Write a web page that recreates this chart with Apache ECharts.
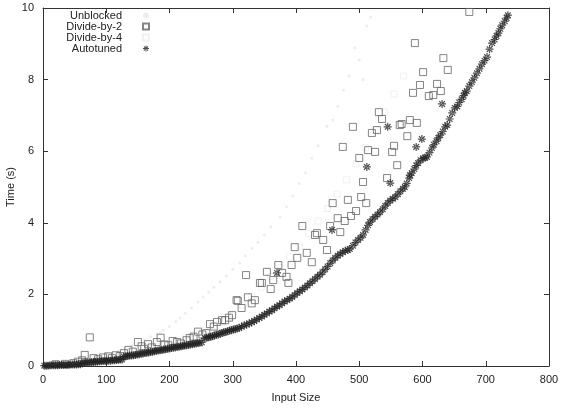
<!DOCTYPE html>
<html>
<head>
<meta charset="utf-8">
<script src="https://cdn.jsdelivr.net/npm/echarts@6/dist/echarts.min.js"></script>
<style>
  html, body { margin: 0; padding: 0; background: #fff; }
  #chart { width: 565px; height: 410px; }
</style>
</head>
<body>
<div id="chart"></div>
<script>
// values: [input size, time in s]
const unblocked = [
  [10, 0.00], [20, 0.01], [30, 0.02], [40, 0.04], [50, 0.07], [60, 0.10], [70, 0.14], [80, 0.19],
  [90, 0.24], [100, 0.30], [110, 0.36], [120, 0.42], [130, 0.50], [140, 0.57], [150, 0.65],
  [160, 0.73], [170, 0.82], [180, 0.90], [185, 0.92], [190, 1.00], [200, 1.10], [210, 1.24],
  [217, 1.34], [225, 1.47], [235, 1.62], [245, 1.79], [253, 1.93], [262, 2.06], [270, 2.20],
  [280, 2.35], [290, 2.52], [300, 2.70], [311, 2.88], [320, 3.08], [330, 3.28], [340, 3.46],
  [350, 3.66], [360, 3.88], [375, 4.16], [385, 4.45], [395, 4.75], [405, 5.10], [415, 5.40],
  [425, 5.80], [435, 6.15], [449, 6.70], [458, 6.87], [466, 7.25], [475, 7.70], [484, 8.10],
  [493, 8.90], [500, 8.55], [506, 8.00], [512, 9.50], [518, 9.75]
];

const divideBy2 = [
  [20, 0.05], [35, 0.06], [48, 0.08], [55, 0.12], [62, 0.16], [66, 0.31], [74, 0.80], [80, 0.22],
  [87, 0.19], [95, 0.24], [103, 0.27], [109, 0.22], [115, 0.30], [122, 0.28], [128, 0.36],
  [135, 0.45], [142, 0.40], [150, 0.67], [156, 0.55], [160, 0.48], [166, 0.61], [172, 0.52],
  [180, 0.67], [186, 0.79], [192, 0.60], [198, 0.58], [205, 0.70], [212, 0.67], [218, 0.63],
  [227, 0.72], [232, 0.78], [238, 0.82], [245, 0.96], [252, 0.88], [258, 0.92], [264, 1.17],
  [270, 1.10], [275, 1.23], [283, 1.28], [288, 1.28], [294, 1.35], [299, 1.42], [306, 1.84],
  [308, 1.82], [314, 1.62], [321, 2.54], [324, 1.92], [330, 1.75], [335, 1.84], [343, 2.32],
  [346, 2.32], [354, 2.63], [360, 2.15], [364, 2.40], [372, 2.82], [378, 2.60], [385, 2.49],
  [388, 2.32], [393, 2.82], [398, 3.32], [402, 3.02], [410, 3.91], [417, 3.16], [425, 2.90],
  [430, 3.66], [433, 3.71], [443, 3.52], [449, 3.24], [454, 3.91], [458, 4.55], [466, 4.13],
  [470, 3.74], [474, 6.12], [477, 4.05], [482, 4.64], [487, 4.19], [490, 6.68], [495, 4.33],
  [500, 5.81], [503, 4.72], [506, 5.14], [511, 4.55], [514, 6.03], [520, 6.51], [525, 5.98],
  [528, 6.59], [531, 7.09], [536, 6.90], [544, 5.25], [552, 5.98], [555, 6.15], [560, 5.61],
  [564, 6.73], [567, 6.76], [576, 6.42], [580, 6.87], [585, 7.63], [588, 9.02], [591, 6.79],
  [596, 7.85], [601, 8.21], [610, 7.54], [617, 7.57], [623, 7.88], [629, 7.68], [633, 8.60],
  [640, 8.27], [674, 9.89]
];

const divideBy4 = [
  [60, 0.12], [75, 0.18], [90, 0.22], [105, 0.26], [120, 0.30], [135, 0.38], [150, 0.45],
  [165, 0.50], [180, 0.55], [195, 0.62], [210, 0.70], [225, 0.80], [240, 0.90], [255, 1.00],
  [270, 1.12], [285, 1.25], [300, 1.45], [315, 1.70], [330, 1.95], [345, 2.20], [360, 2.50],
  [375, 2.75], [390, 3.05], [405, 3.35], [420, 3.70], [435, 4.05], [450, 4.40], [465, 4.80],
  [480, 5.20], [495, 5.65], [510, 6.10], [525, 6.60], [540, 7.10], [555, 7.60], [570, 8.10]
];

const autotuned = [
  [2, 0.01], [5, 0.01], [8, 0.01], [11, 0.02], [14, 0.02], [17, 0.02], [20, 0.02], [23, 0.02],
  [26, 0.03], [29, 0.03], [32, 0.03], [35, 0.03], [38, 0.03], [41, 0.03], [44, 0.04], [47, 0.04],
  [50, 0.04], [53, 0.04], [56, 0.05], [59, 0.05],
  [62, 0.08], [65, 0.09], [68, 0.09], [71, 0.10], [74, 0.10], [77, 0.11], [80, 0.11], [83, 0.12],
  [86, 0.12], [89, 0.13], [92, 0.13], [95, 0.14], [98, 0.14], [101, 0.15], [104, 0.15],
  [107, 0.15], [110, 0.16], [113, 0.16], [116, 0.17], [119, 0.17], [122, 0.18], [125, 0.18],
  [128, 0.26], [131, 0.27], [134, 0.28], [137, 0.29], [140, 0.29], [143, 0.30], [146, 0.31],
  [149, 0.32], [152, 0.33], [155, 0.34], [158, 0.35], [161, 0.36], [164, 0.37], [167, 0.38],
  [170, 0.39], [173, 0.40], [176, 0.41], [179, 0.42], [182, 0.43], [185, 0.44], [188, 0.45],
  [191, 0.46], [194, 0.47], [197, 0.48], [200, 0.49], [203, 0.50], [206, 0.51], [209, 0.52],
  [212, 0.53], [215, 0.54], [218, 0.55], [221, 0.56], [224, 0.57], [227, 0.58], [230, 0.59],
  [233, 0.60], [236, 0.61], [239, 0.62], [242, 0.63], [245, 0.64], [248, 0.65], [251, 0.66],
  [256, 0.78], [259, 0.79], [262, 0.80], [265, 0.82], [268, 0.83], [271, 0.85], [274, 0.87],
  [277, 0.88], [280, 0.90], [283, 0.92], [286, 0.94], [289, 0.95], [292, 0.97], [295, 0.99],
  [298, 1.00], [301, 1.02], [304, 1.03], [307, 1.05], [310, 1.06],
  [314, 1.10], [318, 1.13], [322, 1.16], [326, 1.19], [330, 1.22], [334, 1.26], [338, 1.30],
  [342, 1.34], [346, 1.38], [350, 1.43], [354, 1.47], [358, 1.52], [362, 1.56], [366, 1.61],
  [370, 1.66], [374, 1.70], [378, 1.75], [382, 1.80], [386, 1.84], [390, 1.88], [394, 1.93],
  [398, 1.98], [402, 2.04], [406, 2.09], [410, 2.14], [414, 2.19], [418, 2.25], [422, 2.31],
  [426, 2.37], [430, 2.43], [434, 2.49], [438, 2.55], [442, 2.62], [446, 2.70], [450, 2.78],
  [454, 2.87], [458, 2.95], [462, 3.02], [466, 3.08], [470, 3.13], [474, 3.18], [478, 3.22],
  [482, 3.24], [485, 3.27], [490, 3.36], [494, 3.45], [498, 3.52], [502, 3.58], [506, 3.66],
  [510, 3.80], [514, 3.93], [517, 4.02], [521, 4.10], [525, 4.17], [529, 4.23], [533, 4.30],
  [537, 4.38], [541, 4.47], [545, 4.55], [549, 4.62], [553, 4.67], [557, 4.72], [561, 4.80],
  [565, 4.88], [569, 4.95], [572, 5.00], [575, 5.10], [579, 5.25], [583, 5.39], [587, 5.50],
  [590, 5.60], [593, 5.67], [597, 5.75], [601, 5.80], [604, 5.82], [607, 5.84], [611, 5.96],
  [615, 6.09], [618, 6.18], [622, 6.28], [625, 6.37], [628, 6.45], [632, 6.55], [636, 6.68],
  [639, 6.73], [643, 6.90], [647, 7.07], [651, 7.21], [655, 7.25], [658, 7.36], [662, 7.45],
  [665, 7.55], [667, 7.63], [670, 7.68], [674, 7.82], [678, 7.93], [682, 8.05], [686, 8.18],
  [690, 8.30], [694, 8.43], [698, 8.53], [702, 8.63], [706, 8.85], [710, 9.02], [714, 9.12],
  [717, 9.22], [720, 9.30], [723, 9.42], [726, 9.52], [730, 9.63], [733, 9.72], [735, 9.80],
  // stray runs
  [370, 2.60], [457, 3.80], [512, 5.56], [545, 6.68], [549, 5.11], [580, 5.33], [590, 6.12],
  [599, 6.34], [631, 7.32]
];

const xTicks = [0, 100, 200, 300, 400, 500, 600, 700, 800];
const yTicks = [0, 2, 4, 6, 8, 10];

// gnuplot style asterisk
const asterisk = 'path://M-1.5,-10L1.5,-10L1.5,10L-1.5,10Z M-10,-1.5L10,-1.5L10,1.5L-10,1.5Z ' +
  'M-8.1,-6L6,8.1L8.1,6L-6,-8.1Z M-8.1,6L6,-8.1L8.1,-6L-6,8.1Z';

const font = 'Liberation Sans';
const axisColor = '#333';

function frameAxis(pos, isX, showLabel) {
  const ticks = isX ? xTicks : yTicks;
  return {
    type: 'value',
    position: pos,
    min: ticks[0],
    max: ticks[ticks.length - 1],
    interval: ticks[1] - ticks[0],
    axisLine: { show: true, onZero: false, lineStyle: { color: axisColor, width: 1 } },
    axisTick: { show: true, inside: true, length: 5, lineStyle: { color: axisColor } },
    axisLabel: {
      show: showLabel, color: '#222', fontSize: 11, fontFamily: font,
      margin: isX ? 8 : 9
    },
    splitLine: { show: false }
  };
}

const chart = echarts.init(document.getElementById('chart'));

const xBottom = frameAxis('bottom', true, true);
xBottom.name = 'Input Size';
xBottom.nameLocation = 'middle';
xBottom.nameGap = 26;
xBottom.nameMoveOverlap = false;
xBottom.nameTextStyle = { color: '#222', fontSize: 11, fontFamily: font };

const yLeft = frameAxis('left', false, true);
yLeft.name = 'Time (s)';
yLeft.nameLocation = 'middle';
yLeft.nameGap = 27;
yLeft.nameMoveOverlap = false;
yLeft.nameTextStyle = { color: '#222', fontSize: 11, fontFamily: font };

chart.setOption({
  animation: false,
  backgroundColor: '#fff',
  grid: { left: 43, right: 16, top: 8, bottom: 44, outerBoundsMode: 'none', containLabel: false },
  xAxis: [xBottom, frameAxis('top', true, false)],
  yAxis: [yLeft, frameAxis('right', false, false)],
  legend: {
    orient: 'vertical',
    align: 'right',
    right: 415,
    top: 10,
    itemWidth: 6,
    itemHeight: 6,
    itemGap: 0,
    padding: 0,
    textStyle: { color: '#222', fontSize: 11, fontFamily: font, padding: [0, 16, 0, 0] },
    data: ['Unblocked', 'Divide-by-2', 'Divide-by-4', 'Autotuned']
  },
  series: [
    {
      name: 'Unblocked', type: 'scatter', data: unblocked,
      symbol: 'circle', symbolSize: 3,
      itemStyle: { color: '#e8e8e8' }
    },
    {
      name: 'Divide-by-4', type: 'scatter', data: divideBy4,
      symbol: 'rect', symbolSize: 6,
      itemStyle: { color: 'rgba(0,0,0,0)', borderColor: '#eeeeee', borderWidth: 1 }
    },
    {
      name: 'Divide-by-2', type: 'scatter', data: divideBy2,
      symbol: 'rect', symbolSize: 7,
      itemStyle: { color: 'rgba(0,0,0,0)', borderColor: '#666', borderWidth: 1 }
    },
    {
      name: 'Autotuned', type: 'scatter', data: autotuned,
      symbol: asterisk, symbolSize: 8,
      itemStyle: { color: '#222' }
    }
  ]
});
</script>
</body>
</html>
